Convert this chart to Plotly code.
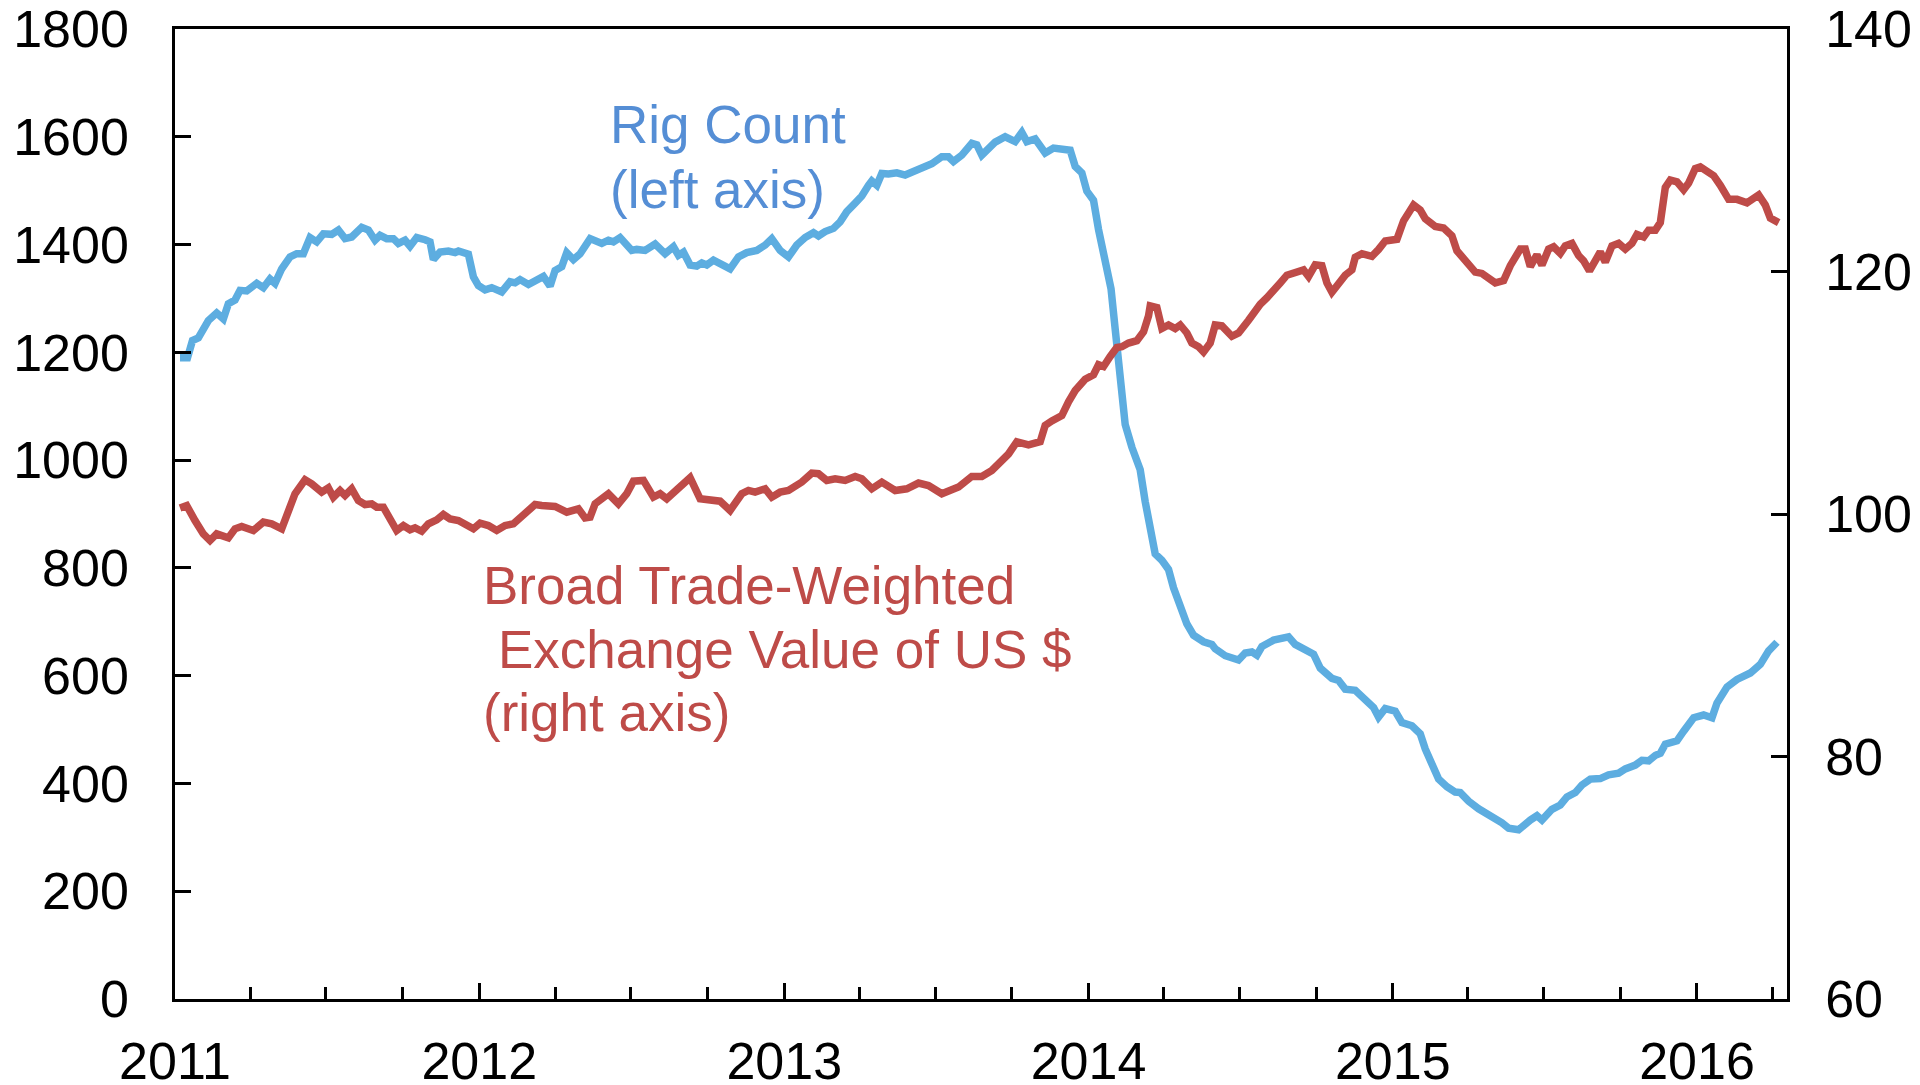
import pandas as pd
import plotly.graph_objects as go

# ---------------- data ----------------
base_date = "2011-01-01"

rig_day = [6, 15, 21, 28, 40, 50, 58, 64, 72, 78, 86, 98, 106, 114, 120, 128, 138, 146, 154, 162,
           170, 178, 188, 196, 204, 212, 224, 232, 240, 246, 254, 262, 268, 276, 282, 290, 300, 306, 310, 318,
           328, 336,
           340, 352, 358, 364, 372, 380, 392, 402, 408, 414, 424, 432, 442, 450, 456, 464, 470, 478, 486, 498,
           512, 520, 526, 534, 548, 554, 564, 576, 588, 598, 604, 610, 618, 626, 632, 638, 646,
           666, 676, 686, 698, 708, 716, 726, 736, 746, 756, 766, 772, 780, 790, 798, 806, 816, 824, 832, 836,
           842, 848, 856, 866, 876, 888, 898, 908, 920, 928, 934, 944, 956, 962, 968,
           984, 996, 1008, 1016, 1022, 1032, 1044, 1054, 1066, 1074, 1080, 1088, 1094, 1102, 1108, 1116, 1123,
           1128, 1134, 1140, 1148, 1158, 1164, 1170, 1176, 1184, 1192, 1198, 1206, 1214, 1222, 1234, 1244,
           1248, 1260, 1276, 1284, 1292,
           1298, 1304, 1318, 1336, 1344, 1356, 1366, 1374, 1388, 1396, 1404, 1416, 1426, 1438, 1444, 1452,
           1464, 1472, 1484, 1494, 1500, 1510, 1516, 1526, 1536, 1542, 1552, 1564, 1572, 1584, 1592, 1600, 1612,
           1626, 1634, 1640, 1652, 1662, 1670, 1680, 1688, 1698, 1710, 1720, 1732, 1740, 1752, 1760, 1768,
           1776, 1782, 1788, 1802, 1810, 1822, 1834, 1844, 1850, 1862, 1874, 1890, 1902, 1912, 1922]

rig_count = [1190, 1190, 1222, 1227, 1259, 1273, 1262, 1290, 1297, 1315, 1314, 1328, 1320, 1336, 1328, 1355,
             1377, 1383, 1383, 1413, 1405, 1420, 1419, 1427, 1411, 1414, 1432, 1427, 1408, 1417, 1411, 1411,
             1402, 1408, 1397, 1413, 1409, 1405, 1372, 1386, 1388, 1385,
             1388, 1382, 1340, 1324, 1316, 1320, 1312, 1331, 1329, 1335, 1326, 1333, 1341, 1323, 1352, 1359,
             1385, 1372, 1383, 1411, 1402, 1408, 1405, 1413, 1389, 1391, 1389, 1401, 1383, 1396, 1380, 1386,
             1362, 1360, 1366, 1362, 1371,
             1355, 1377, 1385, 1389, 1399, 1411, 1389, 1377, 1399, 1413, 1422, 1416, 1424, 1430, 1442, 1461,
             1477, 1490, 1510, 1518, 1510, 1532, 1531, 1533, 1529, 1537, 1541, 1550, 1563, 1563, 1554, 1566,
             1588, 1585, 1566,
             1590, 1600, 1591, 1608, 1591, 1596, 1570, 1579, 1575, 1575, 1545, 1533, 1499, 1482, 1428, 1369,
             1318, 1243, 1159, 1066, 1024, 982, 923, 873, 826, 814, 797, 763, 730, 696, 675, 663, 658, 650,
             637, 629, 642, 644,
             638, 654, 666, 672, 658, 646, 640, 614, 595, 591, 575, 573, 559, 541, 523, 539, 534, 513, 507,
             492, 464, 424, 408, 394, 384, 383, 367, 353, 346, 333, 327, 317, 314,
             332, 340, 332, 352, 360, 375, 383, 397, 408, 409, 416, 419, 427, 434, 443, 442, 452, 456, 473,
             479, 497, 522, 527, 522, 549, 579, 593, 605, 621, 646, 662]

usd_day = [6, 14, 24, 34, 42, 50, 64, 72, 80, 94, 106, 116, 128, 138, 144, 156, 164, 176, 184, 190,
           198, 204, 212, 220, 228, 236, 242, 250, 260, 266, 274, 282, 288, 296, 304, 314, 322, 330,
           340, 358, 366, 376, 386, 396, 406, 418, 432, 440, 456, 470, 484, 492, 498, 504, 520, 532, 542, 550,
           562, 574, 582, 590, 600, 618, 630, 644, 654,
           666, 680, 688, 696, 708, 716, 726, 736, 752, 764, 772, 782, 792, 804, 816, 824, 836, 848, 864, 878,
           892, 904, 920, 932, 940, 956, 968, 980,
           984, 992, 1000, 1010, 1024, 1038, 1044, 1052, 1064, 1072, 1080, 1092, 1102, 1108, 1114, 1122, 1130,
           1136, 1144, 1154, 1162, 1168, 1170, 1178, 1184, 1192, 1200, 1206, 1214, 1220, 1228, 1234, 1242,
           1248, 1256, 1268, 1276, 1288,
           1296, 1302, 1310, 1318, 1326, 1334, 1344, 1354, 1360, 1368, 1376, 1382, 1388, 1396, 1404, 1412,
           1416, 1424, 1436, 1444, 1452, 1466, 1474, 1486, 1494, 1500, 1512, 1522, 1532, 1538, 1548, 1552,
           1560, 1568, 1576, 1584, 1594, 1602,
           1614, 1620, 1626, 1634, 1640, 1648, 1654, 1662, 1668, 1676, 1684, 1690, 1697, 1704, 1710, 1716,
           1724, 1732, 1740, 1748, 1754, 1762, 1768, 1776, 1782, 1788, 1794, 1802, 1810, 1816, 1824, 1830,
           1838, 1846, 1854, 1864, 1874, 1886, 1900, 1908, 1914, 1924]

usd_index = [100.5, 100.7, 99.46, 98.36, 97.81, 98.36, 98.03, 98.78, 98.97, 98.64, 99.33, 99.19, 98.78,
             100.84, 101.67, 102.82, 102.49, 101.80, 102.16, 101.39, 101.94, 101.53, 102.08, 101.11, 100.78,
             100.84, 100.56, 100.56, 99.33, 98.64, 99.05, 98.70, 98.86, 98.58, 99.19, 99.52, 99.96, 99.60,
             99.46, 98.78, 99.24, 99.05, 98.64, 99.05, 99.19, 99.88, 100.78, 100.70, 100.62, 100.15, 100.43,
             99.68, 99.74, 100.84, 101.67, 100.84, 101.67, 102.71, 102.77, 101.39, 101.67, 101.25, 101.94,
             102.99, 101.25, 101.11, 101.06,
             100.29, 101.67, 101.94, 101.80, 102.08, 101.39, 101.80, 101.94, 102.63, 103.37, 103.32, 102.77,
             102.90, 102.77, 103.10, 102.90, 102.08, 102.63, 101.94, 102.08, 102.55, 102.35, 101.67, 102.08,
             102.22, 103.10, 103.10, 103.59,
             103.9, 104.39, 104.95, 105.96, 105.70, 105.96, 107.31, 107.68, 108.12, 109.25, 110.18, 111.11,
             111.49, 112.31, 112.16, 112.99, 113.73, 113.80, 114.10, 114.29, 115.03, 116.35, 117.16, 117.02,
             115.30, 115.59, 115.30, 115.59, 114.93, 114.10, 113.80, 113.36, 114.10, 115.59, 115.52, 114.66,
             114.93, 115.98,
             116.78, 117.30, 117.83, 118.54, 119.06, 119.70, 119.95, 120.13, 119.59, 120.55, 120.48, 119.06,
             118.29, 119.06, 119.70, 120.13, 121.18, 121.47, 121.25, 121.82, 122.52, 122.66, 124.18, 125.49,
             125.07, 124.36, 123.72, 123.58, 122.94, 121.71, 120.83, 120.55, 119.95, 119.84, 119.35, 119.06,
             119.25, 120.48,
             121.85, 121.85, 120.41, 121.38, 120.52, 121.85, 122.04, 121.49, 122.11, 122.32, 121.31, 120.88,
             120.05, 120.77, 121.61, 120.77, 122.11, 122.32, 121.85, 122.32, 123.05, 122.84, 123.41, 123.41,
             124.03, 126.93, 127.54, 127.40, 126.75, 127.29, 128.49, 128.63, 128.27, 127.90, 127.11, 125.95,
             125.95, 125.66, 126.31, 125.48, 124.40, 124.03]

x_range = ["2011-01-01", "2016-04-18"]
left_range = [0, 1800]
right_range = [60, 140]

# ---------------- styles ----------------
BLUE_LINE = "#5DADE0"
BLUE_TEXT = "#558ED5"
RED = "#BE4B48"
FONT = "Liberation Sans, Arial, sans-serif"
TICK_SIZE = 52
NOTE_SIZE = 53

base = pd.Timestamp(base_date)
rig_x = base + pd.to_timedelta(rig_day, unit="D")
usd_x = base + pd.to_timedelta(usd_day, unit="D")

fig = go.Figure()
fig.add_trace(go.Scatter(x=usd_x, y=usd_index, mode="lines", yaxis="y2",
                         line=dict(color=RED, width=7.5), name="USD"))
fig.add_trace(go.Scatter(x=rig_x, y=rig_count, mode="lines", yaxis="y",
                         line=dict(color=BLUE_LINE, width=7.5), name="Rig Count"))

# the page body has an 8px margin, so the figure is drawn 8px in from the corner
OFF = 8
W, H = 1920 - OFF, 1085 - OFF
ML, MR, MT, MB = 175 - OFF, 133, 29 - OFF, 86
PW, PH = W - ML - MR, H - MT - MB


def px(x):
    # x: page pixel -> paper fraction
    return (x - OFF - ML) / PW


def py(y):
    # y: page pixel -> paper fraction
    return (H - MB - (y - OFF)) / PH


notes = [
    ("Rig Count", 608, 125, BLUE_TEXT),
    ("(left axis)", 608, 190, BLUE_TEXT),
    ("Broad Trade-Weighted", 481, 585, RED),
    ("Exchange Value of US $", 496, 649, RED),
    ("(right axis)", 481, 713, RED),
]
for text, x0, y0, col in notes:
    fig.add_annotation(text=text, x=px(x0), y=py(y0), xref="paper", yref="paper",
                       xanchor="left", yanchor="middle", showarrow=False,
                       font=dict(family=FONT, size=NOTE_SIZE, color=col))

axis_common = dict(showline=True, linecolor="black", linewidth=2.5, ticks="inside",
                   tickcolor="black", tickwidth=2.5, showgrid=False, zeroline=False,
                   tickfont=dict(family=FONT, size=TICK_SIZE, color="black"), automargin=False,
                   ticklabeloverflow="allow")

fig.update_layout(
    width=W, height=H, autosize=False,
    margin=dict(l=ML, r=MR, t=MT, b=MB, pad=0),
    paper_bgcolor="white", plot_bgcolor="white",
    showlegend=False,
    xaxis=dict(type="date", range=x_range, dtick="M12", tick0="2011-01-01", tickformat="%Y",
               ticklen=16, mirror=True, ticklabelstandoff=15,
               minor=dict(dtick="M3", tick0="2011-01-01", ticks="inside", ticklen=12,
                          tickwidth=2.5, tickcolor="black", showgrid=False),
               **axis_common),
    yaxis=dict(range=left_range, dtick=200, ticklen=16, ticklabelstandoff=33, **axis_common),
    yaxis2=dict(range=right_range, dtick=20, ticklen=16, overlaying="y", side="right",
                ticklabelstandoff=25, **axis_common),
)

fig.write_html("out.html")
